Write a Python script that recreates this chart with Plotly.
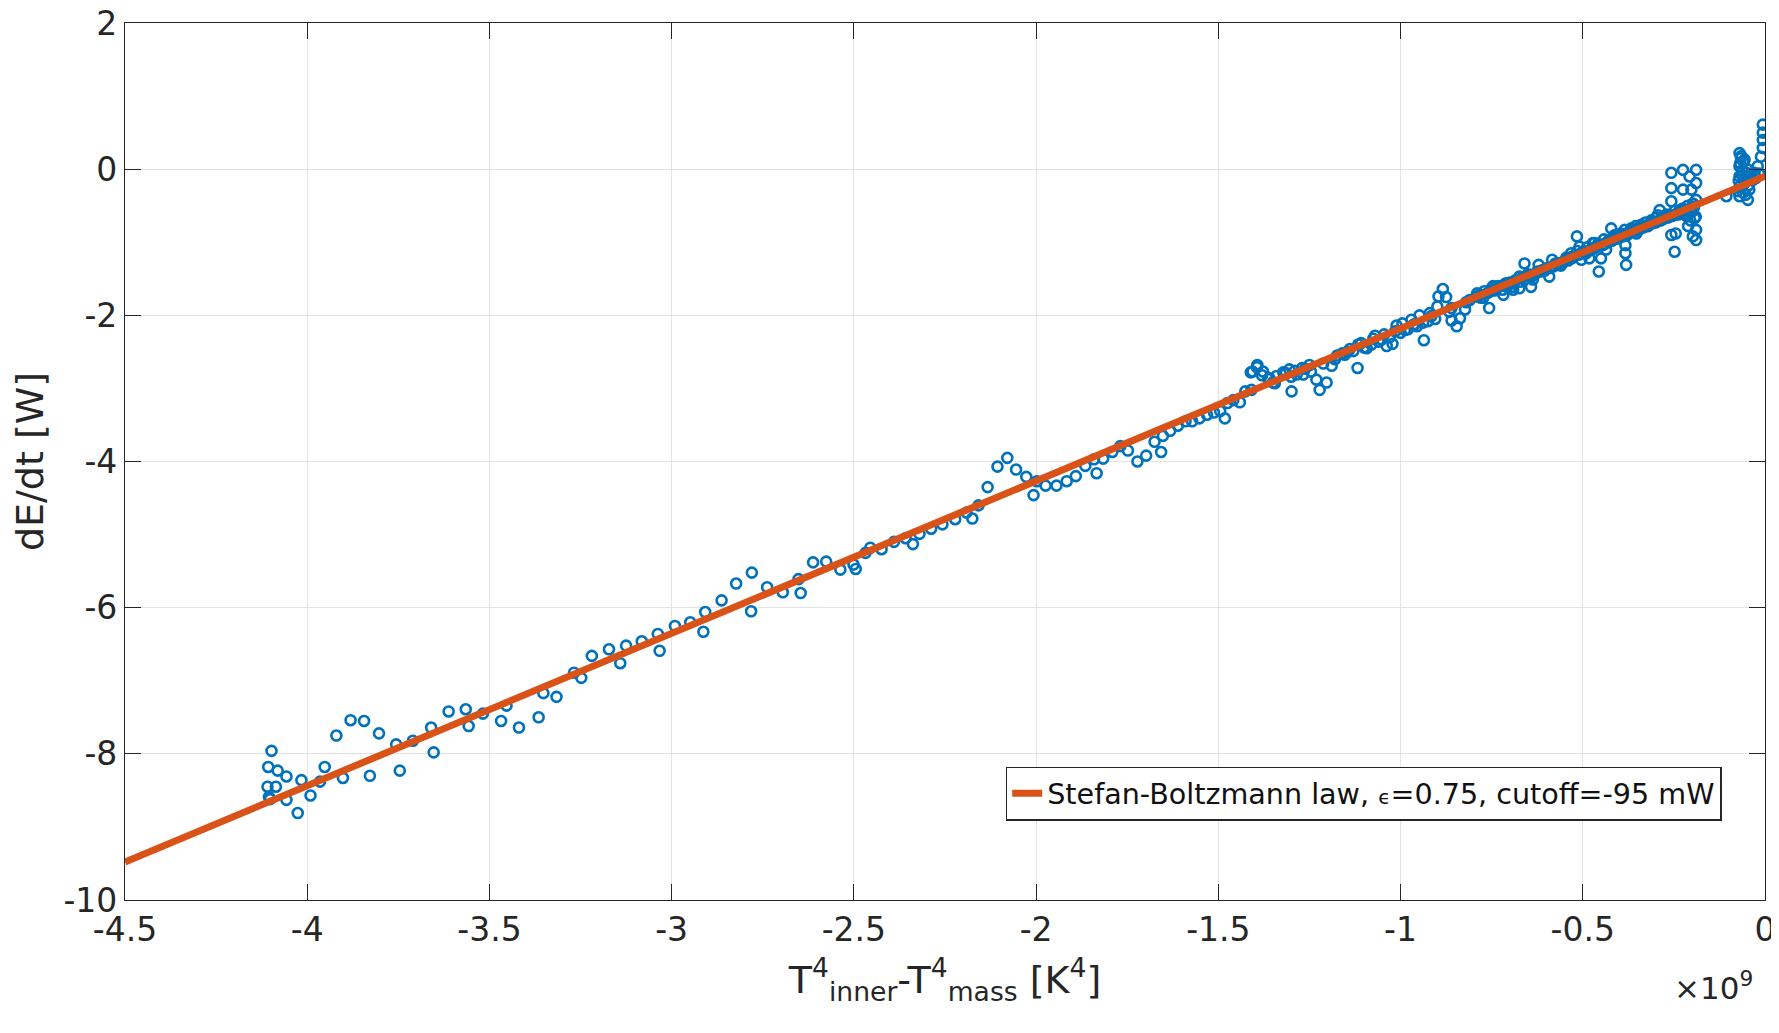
import plotly.graph_objects as go

# x in units of 1e9 K^4, y in W
meas_x = [
    -4.098, -4.107, -4.081, -4.057, -4.109, -4.086, -4.105, -4.102, -4.057, -4.026,
    -4.016, -3.991, -3.965, -3.952, -3.902, -3.920, -3.881, -3.844, -3.803, -3.828,
    -3.756, -3.746, -3.710, -3.660, -3.653, -3.612, -3.565, -3.557, -3.518, -3.468,
    -3.453, -3.419, -3.365, -3.352, -3.316,
    -3.268, -3.248, -3.219, -3.172, -3.141, -3.125, -3.082, -3.038, -3.033, -2.991,
    -2.949, -2.913, -2.908, -2.863, -2.823, -2.780, -2.782, -2.738, -2.695, -2.652,
    -2.646, -2.612, -2.576, -2.537, -2.501, -2.495, -2.468, -2.455,
    -2.424, -2.390, -2.358, -2.338, -2.320, -2.288, -2.257, -2.222, -2.191, -2.175,
    -2.158, -2.133, -2.106, -2.079, -2.055, -2.027, -2.007, -1.998, -1.974, -1.944,
    -1.916, -1.891, -1.865, -1.834, -1.841, -1.816, -1.791, -1.769, -1.748, -1.722,
    -1.698, -1.675, -1.657, -1.652, -1.632, -1.611, -1.590, -1.572, -1.552, -1.531,
    -1.512, -1.495, -1.482, -1.475, -1.459, -1.441, -1.426, -1.411, -1.394,
    -1.409, -1.393, -1.406, -1.377, -1.363, -1.350, -1.322, -1.305, -1.299, -1.285,
    -1.267, -1.246, -1.231, -1.222, -1.203, -1.189, -1.174, -1.153, -1.139, -1.118,
    -1.116, -1.093, -1.070, -1.052, -1.038, -1.022, -1.011, -0.988, -0.965, -0.938,
    -0.936, -0.915, -0.899, -0.896, -0.884, -0.875, -0.866, -0.860, -0.846, -0.837,
    -0.823, -0.810, -0.791, -0.773, -0.757, -0.746, -0.732, -0.718, -0.704, -0.691,
    -0.674,
    -0.720, -0.711, -0.692, -0.674, -0.660, -0.642, -0.637, -0.621, -0.610, -0.592,
    -0.584, -0.565, -0.546, -0.532, -0.516, -0.509, -0.504, -0.491, -0.482, -0.468,
    -0.456, -0.450, -0.436, -0.422, -0.408, -0.395, -0.383, -0.383, -0.381, -0.367,
    -0.353, -0.340, -0.321, -0.308, -0.294, -0.289, -0.271, -0.257, -0.257, -0.257,
    -0.257, -0.248, -0.245, -0.234, -0.225, -0.225, -0.216, -0.211, -0.207, -0.202,
    -0.198, -0.193, -0.189, -0.189, -0.189, -0.189, -0.189, -0.198, -0.106, -0.070,
    -0.070, -0.070, -0.070, -0.070, -0.056, -0.056, -0.047, -0.051, -0.043, -0.038,
    -0.029, -0.020, -0.011, -0.006, -0.006, -0.006, -0.006,
    -0.470, -0.440, -0.415, -0.395, -0.375, -0.350, -0.330, -0.310, -0.285, -0.265,
    -0.560, -0.530, -0.600, -0.640, -0.700, -0.750, -0.780, -0.820, -0.860, -0.960,
    # denser band readings
    -1.380, -1.360, -1.340, -1.315, -1.290, -1.270, -1.250, -1.160, -1.130, -1.100,
    -1.080, -1.060, -1.030, -1.000, -0.980, -0.955, -0.925, -0.905, -0.790, -0.770,
    -0.750, -0.735, -0.715, -0.700, -0.685, -0.665, -0.650, -0.630, -0.615, -0.600,
    -0.580, -0.570, -0.555, -0.540, -0.525, -0.510, -0.495, -0.485, -0.475, -0.460,
    -0.445, -0.430, -0.420, -0.405, -0.390, -0.378, -0.362, -0.348, -0.335, -0.325,
    -0.315, -0.300, -0.290, -0.278, -0.268, -0.255, -0.245, -0.235, -0.228, -0.218,
    -0.210, -0.200, -0.195, -0.190, -0.205, -0.215,
    -0.075, -0.072, -0.068, -0.065, -0.062, -0.060, -0.058, -0.053, -0.049, -0.045,
    -0.066, -0.063, -0.059, -0.034, -0.025, -0.016,
    # thick band, second pass
    -1.345, -1.300, -1.262, -1.212, -1.180, -1.145, -1.108, -1.075, -1.045, -1.015,
    -0.995, -0.970, -0.948, -0.920, -0.780, -0.760, -0.742, -0.725, -0.708, -0.690,
    -0.672, -0.655, -0.640, -0.625, -0.605, -0.590, -0.575, -0.560, -0.545, -0.530,
    -0.515, -0.500, -0.488, -0.472, -0.458, -0.442, -0.428, -0.412, -0.398, -0.385,
    -0.370, -0.355, -0.342, -0.328, -0.312, -0.298, -0.282, -0.270, -0.258, -0.248,
    -0.238, -0.226, -0.220, -0.212, -0.204, -0.196,
]
meas_y = [
    -7.96, -8.18, -8.23, -8.31, -8.45, -8.45, -8.59, -8.62, -8.63, -8.81,
    -8.36, -8.57, -8.38, -8.18, -8.33, -7.75, -7.54, -7.55, -7.72, -8.30,
    -7.87, -8.23, -7.82, -7.64, -7.98, -7.42, -7.39, -7.62, -7.45, -7.55,
    -7.34, -7.64, -7.50, -7.17, -7.22,
    -6.89, -6.96, -6.66, -6.57, -6.76, -6.52, -6.46, -6.36, -6.59, -6.25,
    -6.20, -6.33, -6.06, -5.90, -5.67, -5.52, -6.05, -5.72, -5.79, -5.61,
    -5.80, -5.38, -5.37, -5.48, -5.41, -5.47, -5.25, -5.18,
    -5.20, -5.10, -5.05, -5.13, -4.99, -4.92, -4.86, -4.79, -4.70, -4.78,
    -4.60, -4.35, -4.07, -3.95, -4.11, -4.21, -4.46, -4.27, -4.33, -4.33,
    -4.27, -4.20, -4.06, -4.16, -3.97, -3.96, -3.87, -3.79, -3.85, -4.00,
    -3.92, -3.73, -3.87, -3.65, -3.58, -3.51, -3.45, -3.45, -3.41, -3.36,
    -3.33, -3.31, -3.41, -3.20, -3.16, -3.19, -3.04, -2.78, -2.71,
    -3.02, -2.68, -2.77, -2.77, -2.87, -2.92, -2.78, -2.74, -3.04, -2.81,
    -2.81, -2.77, -2.88, -3.02, -2.92, -2.69, -2.55, -2.54, -2.46, -2.72,
    -2.40, -2.45, -2.28, -2.33, -2.42, -2.39, -2.14, -2.20, -2.13, -2.10,
    -2.34, -2.01, -1.88, -1.74, -1.64, -1.75, -1.95, -2.07, -2.15, -2.04,
    -1.92, -1.79, -1.74, -1.76, -1.90, -1.60, -1.60, -1.72, -1.58, -1.65,
    -1.47,
    -1.65, -1.56, -1.61, -1.63, -1.29, -1.61, -1.51, -1.31, -1.38, -1.47,
    -1.24, -1.29, -1.24, -1.15, -0.92, -1.06, -1.24, -1.15, -1.22, -1.01,
    -1.40, -1.22, -1.10, -0.81, -0.92, -0.88, -1.04, -1.15, -1.31, -0.81,
    -0.88, -0.76, -0.78, -0.72, -0.63, -0.56, -0.63, -0.05, -0.26, -0.44,
    -0.90, -1.13, -0.88, -0.56, -0.01, -0.28, -0.56, -0.78, -0.10, -0.28,
    -0.47, -0.67, -0.01, -0.19, -0.42, -0.83, -0.97, -0.92, -0.37, 0.22,
    0.04, -0.10, -0.24, -0.37, 0.13, -0.19, -0.42, -0.05, -0.28, -0.10,
    -0.05, 0.04, 0.17, 0.29, 0.40, 0.50, 0.61,
    -1.08, -1.02, -0.96, -0.90, -0.87, -0.82, -0.78, -0.74, -0.70, -0.66,
    -1.28, -1.20, -1.36, -1.45, -1.56, -1.66, -1.72, -1.82, -1.90, -2.12,
    # denser band readings
    -2.82, -2.86, -2.83, -2.79, -2.76, -2.72, -2.68, -2.52, -2.49, -2.44,
    -2.40, -2.36, -2.30, -2.24, -2.19, -2.15, -2.08, -2.05, -1.70, -1.67,
    -1.63, -1.62, -1.58, -1.55, -1.52, -1.48, -1.44, -1.43, -1.40, -1.36,
    -1.33, -1.30, -1.28, -1.25, -1.20, -1.17, -1.14, -1.12, -1.10, -1.06,
    -1.04, -1.00, -0.98, -0.95, -0.92, -0.90, -0.86, -0.84, -0.80, -0.78,
    -0.75, -0.73, -0.70, -0.68, -0.66, -0.64, -0.62, -0.60, -0.58, -0.60,
    -0.62, -0.58, -0.52, -0.65, -0.70, -0.64,
    -0.30, -0.16, 0.08, 0.18, -0.02, -0.32, -0.14, -0.35, 0.00, -0.22,
    0.15, -0.08, 0.10, -0.15, -0.12, -0.06,
    # thick band, second pass
    -2.93, -2.84, -2.73, -2.66, -2.60, -2.50, -2.38, -2.32, -2.26, -2.22,
    -2.11, -2.06, -2.00, -1.97, -1.76, -1.69, -1.66, -1.60, -1.61, -1.56,
    -1.54, -1.46, -1.47, -1.40, -1.39, -1.35, -1.29, -1.32, -1.21, -1.22,
    -1.12, -1.13, -1.07, -1.01, -1.02, -0.96, -0.97, -0.90, -0.89, -0.83,
    -0.84, -0.78, -0.79, -0.73, -0.70, -0.66, -0.68, -0.62, -0.63, -0.57,
    -0.62, -0.54, -0.60, -0.50, -0.56, -0.48,
]

# Fitted Stefan-Boltzmann line endpoints
fit_x = [-4.5, 0.0]
fit_y = [-9.48, -0.095]

x_ticks = [-4.5, -4, -3.5, -3, -2.5, -2, -1.5, -1, -0.5, 0]
x_tick_labels = ["-4.5", "-4", "-3.5", "-3", "-2.5", "-2", "-1.5", "-1", "-0.5", "0"]
y_ticks = [-10, -8, -6, -4, -2, 0, 2]
y_tick_labels = ["-10", "-8", "-6", "-4", "-2", "0", "2"]

FONT = "DejaVu Sans"
AXC = "#262626"

fig = go.Figure()
fig.add_trace(go.Scatter(
    x=meas_x, y=meas_y, mode="markers", showlegend=False,
    marker=dict(symbol="circle-open", size=10, color="#0072BD",
                line=dict(width=2.6, color="#0072BD")),
))
fig.add_trace(go.Scatter(
    x=fit_x, y=fit_y, mode="lines",
    name="Stefan-Boltzmann law, <span style='font-size:20px'>ϵ</span>=0.75, cutoff=-95 mW",
    line=dict(color="#D95319", width=7),
))

# page body adds an 8px offset, so the figure is sized to fit the window
fig.update_layout(
    width=1771, height=1017,
    margin=dict(l=117, r=14, t=15, b=125, autoexpand=False),
    paper_bgcolor="white", plot_bgcolor="white",
    font=dict(family=FONT, size=33, color=AXC),
    legend=dict(
        x=0.537, y=0.152, xanchor="left", yanchor="top",
        bgcolor="white", bordercolor=AXC, borderwidth=1.5,
        font=dict(family=FONT, size=28.6, color="#111111"),
        itemwidth=30, tracegroupgap=0,
    ),
)
fig.update_xaxes(
    range=[-4.5, 0], tickvals=x_ticks, ticktext=x_tick_labels,
    automargin=False, ticklabeloverflow="allow",
    showgrid=True, gridcolor="#e3e3e3", gridwidth=1, zeroline=False,
    showline=True, linecolor=AXC, linewidth=1.2, mirror="ticks",
    ticks="inside", ticklen=16, tickwidth=1.2, tickcolor=AXC,
    tickfont=dict(size=33),
    title=dict(text="T<sup>4</sup><sub>inner</sub>-T<sup>4</sup><sub>mass</sub> [K<sup>4</sup>]",
               font=dict(size=38), standoff=18),
)
fig.update_yaxes(
    range=[-10, 2], tickvals=y_ticks, ticktext=y_tick_labels,
    automargin=False, ticklabeloverflow="allow",
    showgrid=True, gridcolor="#e3e3e3", gridwidth=1, zeroline=False,
    showline=True, linecolor=AXC, linewidth=1.2, mirror="ticks",
    ticks="inside", ticklen=16, tickwidth=1.2, tickcolor=AXC,
    tickfont=dict(size=33),
    title=dict(text="dE/dt [W]", font=dict(size=38), standoff=8),
)
fig.add_annotation(
    x=1.0, y=0, xref="paper", yref="paper", xanchor="right", yanchor="top",
    xshift=-10, yshift=-64, text="×10<sup>9</sup>", showarrow=False,
    font=dict(family=FONT, size=31, color=AXC),
)

fig.write_html("out.html")
